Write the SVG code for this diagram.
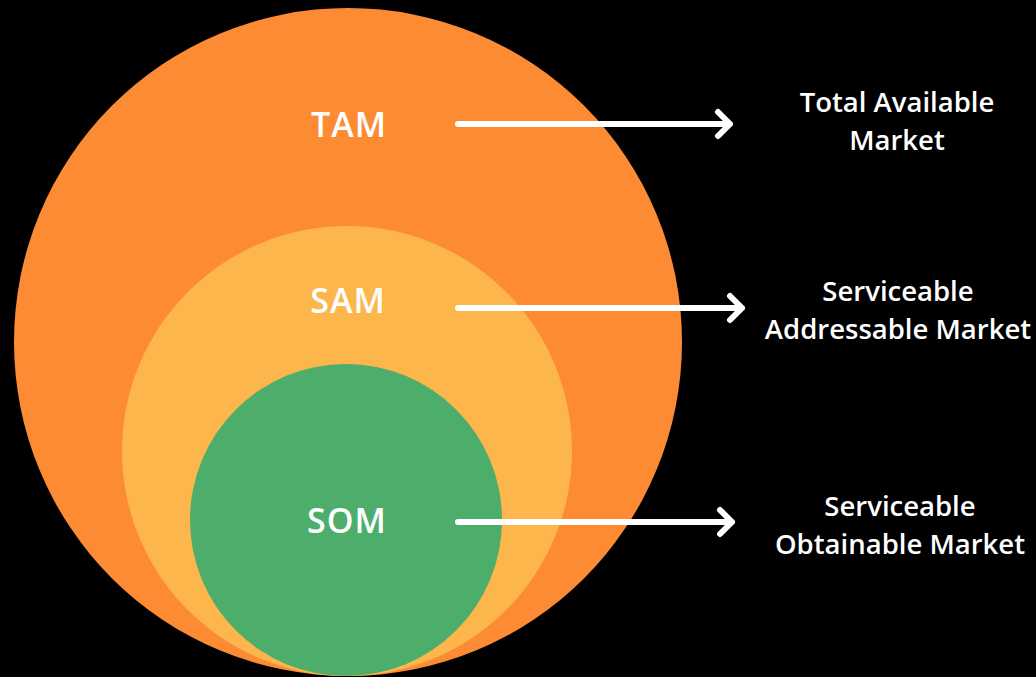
<svg xmlns="http://www.w3.org/2000/svg" width="1036" height="677" viewBox="0 0 1036 677">
<style>
.lbl{font-family:"Open Sans",Lato,"Liberation Sans",sans-serif;font-weight:600;fill:#ffffff;text-anchor:middle}
.big{font-size:34px;letter-spacing:1px}
.side{font-size:27.5px}
.conn{stroke:#ffffff;stroke-width:6;fill:none;stroke-linecap:round;stroke-linejoin:round}
</style>
<rect width="1036" height="677" fill="#000000"/>
<g id="tam">
<circle cx="348" cy="342" r="334" fill="#FD8B34"/>
<text class="lbl big" x="349" y="137">TAM</text>
</g>
<g id="sam">
<circle cx="347" cy="451" r="225" fill="#FDB64B"/>
<text class="lbl big" x="348" y="313">SAM</text>
</g>
<g id="som">
<circle cx="346" cy="520" r="156" fill="#4DAE6B"/>
<text class="lbl big" x="347" y="533">SOM</text>
</g>
<g id="connectors">
<path class="conn" d="M458 124 H730 M718 112 L730 124 L718 136"/>
<path class="conn" d="M458 308 H742 M730 296 L742 308 L730 320"/>
<path class="conn" d="M458 522 H732 M720 510 L732 522 L720 534"/>
</g>
<g id="label-tam">
<text class="lbl side" x="897" y="112">Total Available</text>
<text class="lbl side" x="897" y="150">Market</text>
</g>
<g id="label-sam">
<text class="lbl side" x="898" y="301">Serviceable</text>
<text class="lbl side" x="898" y="339">Addressable Market</text>
</g>
<g id="label-som">
<text class="lbl side" x="900" y="516">Serviceable</text>
<text class="lbl side" x="900" y="554">Obtainable Market</text>
</g>
</svg>
